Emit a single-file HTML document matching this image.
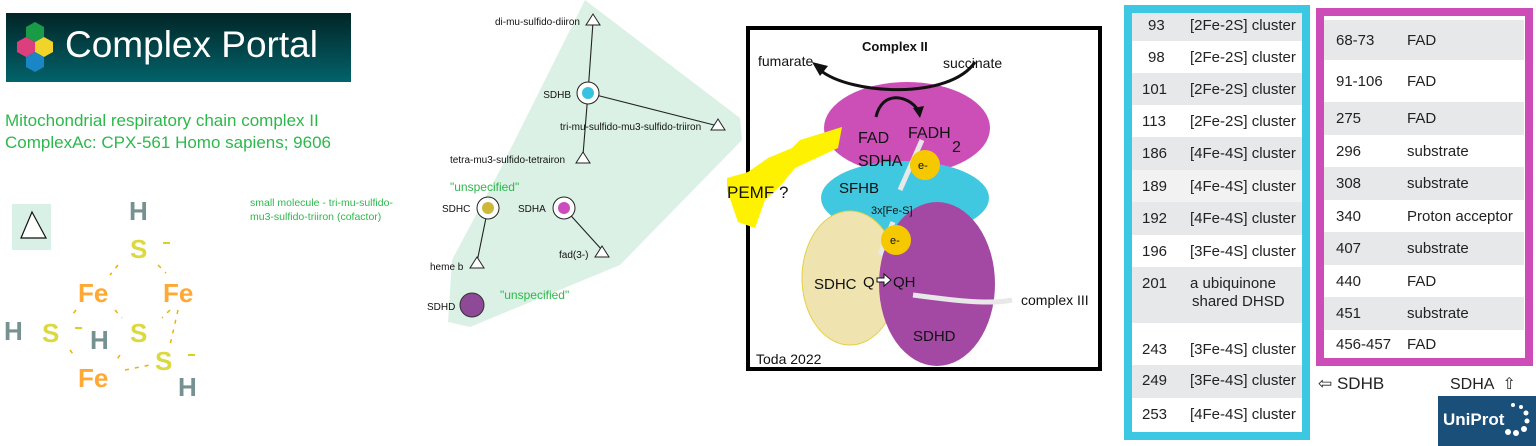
<!DOCTYPE html>
<html><head><meta charset="utf-8"><style>
*{margin:0;padding:0;box-sizing:border-box}
body{width:1536px;height:446px;background:#fff;position:relative;overflow:hidden;font-family:"Liberation Sans",sans-serif}
.a{position:absolute;white-space:nowrap}
.tb{position:absolute;font-size:15px;color:#222}
.tb div{position:absolute;left:0;right:0}
.tb span{position:absolute}
</style></head><body>
<div class="a" style="left:6px;top:13px;width:345px;height:69px;background:linear-gradient(#022527,#02636a)"></div>
<svg class="a" style="left:0;top:0" width="1536" height="446">
 <g>
  <polygon points="35,22 44,27 44,37 35,42 26,37 26,27" fill="#1a9b47"/>
  <polygon points="26,37 35,42 35,52 26,57 17,52 17,42" fill="#dd3f7d"/>
  <polygon points="44,37 53,42 53,52 44,57 35,52 35,42" fill="#f2d32a"/>
  <polygon points="35,52 44,57 44,67 35,72 26,67 26,57" fill="#1b86c6"/>
 </g>
 <polygon points="585,0 740,118 742,140 620,265 470,327 448,322 452,260 500,170 560,50" fill="#dbf1e6"/>
 <rect x="12" y="204" width="39" height="46" fill="#d8f0e6"/>
 <polygon points="32,212 21,238 46,238" fill="#fff" stroke="#111" stroke-width="1.2"/>
 <g stroke="#222" stroke-width="1.1">
  <line x1="588" y1="93" x2="593" y2="22"/><line x1="588" y1="93" x2="718" y2="126"/>
  <line x1="588" y1="93" x2="583" y2="155"/><line x1="488" y1="208" x2="477" y2="262"/>
  <line x1="564" y1="208" x2="602" y2="250"/>
 </g>
 <g fill="#fff" stroke="#222" stroke-width="1">
  <polygon points="593,14 586,25 600,25"/><polygon points="718,119 711,130 725,130"/>
  <polygon points="583,152 576,163 590,163"/><polygon points="477,257 470,268 484,268"/>
  <polygon points="602,246 595,257 609,257"/>
  <circle cx="588" cy="93" r="11"/><circle cx="488" cy="208" r="11"/><circle cx="564" cy="208" r="11"/>
 </g>
 <circle cx="588" cy="93" r="6" fill="#37c3e0"/><circle cx="488" cy="208" r="6" fill="#cdb83a"/><circle cx="564" cy="208" r="6" fill="#cc4cc0"/>
 <circle cx="472" cy="305" r="12" fill="#8e4a96" stroke="#333"/>
 <g font-size="10" fill="#111" font-family="Liberation Sans,sans-serif">
  <text x="580" y="25" text-anchor="end">di-mu-sulfido-diiron</text>
  <text x="571" y="98" text-anchor="end">SDHB</text>
  <text x="560" y="130">tri-mu-sulfido-mu3-sulfido-triiron</text>
  <text x="450" y="163">tetra-mu3-sulfido-tetrairon</text>
  <text x="442" y="212">SDHC</text><text x="518" y="212">SDHA</text>
  <text x="430" y="270">heme b</text><text x="559" y="258">fad(3-)</text>
  <text x="427" y="310">SDHD</text>
 </g>
 <g font-size="12" fill="#2db84c"><text x="450" y="191">"unspecified"</text><text x="500" y="299">"unspecified"</text></g>
 <g font-size="10.5" fill="#2db84c"><text x="250" y="206">small molecule - tri-mu-sulfido-</text><text x="250" y="220">mu3-sulfido-triiron (cofactor)</text></g>
 <g font-size="26" font-weight="bold" font-family="Liberation Sans,sans-serif" opacity="0.85">
  <g fill="#5d7e7e"><text x="129" y="220">H</text><text x="90" y="349">H</text><text x="178" y="396">H</text><text x="4" y="340">H</text></g>
  <g fill="#d6d21e"><text x="130" y="258">S</text><text x="42" y="342">S</text><text x="130" y="342">S</text><text x="155" y="370">S</text></g>
  <g fill="#ff9a10"><text x="78" y="302">Fe</text><text x="163" y="302">Fe</text><text x="78" y="387">Fe</text></g>
 </g>
 <g stroke="#f0b000" stroke-width="1.5" stroke-dasharray="4,6">
  <line x1="118" y1="265" x2="110" y2="275"/><line x1="158" y1="265" x2="166" y2="273"/>
  <line x1="76" y1="310" x2="70" y2="318"/><line x1="115" y1="310" x2="122" y2="318"/>
  <line x1="170" y1="310" x2="162" y2="318"/><line x1="178" y1="310" x2="170" y2="345"/>
  <line x1="70" y1="350" x2="76" y2="358"/><line x1="120" y1="355" x2="115" y2="362"/>
  <line x1="125" y1="370" x2="150" y2="365"/>
 </g>
 <g stroke="#d6d21e" stroke-width="2"><line x1="163" y1="243" x2="170" y2="243"/><line x1="75" y1="328" x2="82" y2="328"/><line x1="188" y1="355" x2="195" y2="355"/></g>
 <rect x="748" y="28" width="352" height="341" fill="#fff" stroke="#000" stroke-width="4"/>
 <ellipse cx="907" cy="128" rx="83" ry="46" fill="#cc4fb8"/>
 <ellipse cx="905" cy="198" rx="84" ry="37" fill="#40c8e0"/>
 <ellipse cx="850" cy="278" rx="48" ry="67" fill="#efe3b0" stroke="#e6d040"/>
 <ellipse cx="937" cy="284" rx="58" ry="82" fill="#a349a4"/>
 <path d="M975,62 C950,100 850,95 820,70" fill="none" stroke="#111" stroke-width="3"/>
 <polygon points="812,62 828,66 820,76" fill="#111"/>
 <path d="M876,117 C882,90 908,95 918,110" fill="none" stroke="#111" stroke-width="3"/>
 <polygon points="913,108 924,106 920,118" fill="#111"/>
 <polygon points="842,127 838,148 795,168 782,184 765,200 755,228 738,222 727,190 727,178 748,172 768,158 792,148 800,140" fill="#fff200"/>
 <g stroke="#e8e8e8" stroke-width="5" fill="none"><line x1="922" y1="140" x2="900" y2="190"/><line x1="893" y1="222" x2="880" y2="255"/><path d="M913,295 C950,300 990,305 1012,300"/></g>
 <circle cx="925" cy="165" r="15" fill="#f5c800"/><circle cx="896" cy="240" r="15" fill="#f5c800"/>
 <polygon points="877,278 884,278 884,274 891,280 884,286 884,282 877,282" fill="#fff" stroke="#111"/>
 <g font-family="Liberation Sans,sans-serif" fill="#111">
  <text x="862" y="51" font-size="13" font-weight="bold">Complex II</text>
  <text x="758" y="66" font-size="14">fumarate</text><text x="943" y="68" font-size="14">succinate</text>
  <text x="858" y="143" font-size="16">FAD</text><text x="908" y="138" font-size="16">FADH</text><text x="952" y="152" font-size="16">2</text>
  <text x="858" y="166" font-size="16">SDHA</text><text x="918" y="169" font-size="11">e-</text>
  <text x="839" y="193" font-size="15">SFHB</text><text x="871" y="214" font-size="11">3x[Fe-S]</text>
  <text x="890" y="244" font-size="11">e-</text>
  <text x="814" y="289" font-size="15">SDHC</text><text x="863" y="287" font-size="15">Q</text><text x="893" y="287" font-size="15">QH</text>
  <text x="913" y="341" font-size="15">SDHD</text><text x="1021" y="305" font-size="14">complex III</text>
  <text x="756" y="364" font-size="14">Toda 2022</text>
  <text x="727" y="198" font-size="17">PEMF ?</text>
 </g>
</svg>
<div class="a" style="left:65px;top:24px;font-size:37px;color:#fff">Complex Portal</div>
<div class="a" style="left:5px;top:110px;font-size:17px;color:#2db84c;line-height:22px">Mitochondrial respiratory chain complex II<br>ComplexAc: CPX-561 Homo sapiens; 9606</div>

<div class="a" style="left:1124px;top:5px;width:186px;height:435px;border:8px solid #3cc8e3;background:#fff"></div>
<div class="tb" style="left:1132px;top:13px;width:170px;height:419px">
 <div style="top:0;height:28px;background:#e6e8ea"><span style="left:16px;top:4px">93</span><span style="left:58px;top:4px">[2Fe-2S] cluster</span></div>
 <div style="top:28px;height:32px"><span style="left:16px;top:8px">98</span><span style="left:58px;top:8px">[2Fe-2S] cluster</span></div>
 <div style="top:60px;height:32px;background:#e6e8ea"><span style="left:10px;top:8px">101</span><span style="left:58px;top:8px">[2Fe-2S] cluster</span></div>
 <div style="top:92px;height:32px"><span style="left:10px;top:8px">113</span><span style="left:58px;top:8px">[2Fe-2S] cluster</span></div>
 <div style="top:124px;height:33px;background:#e6e8ea"><span style="left:10px;top:8px">186</span><span style="left:58px;top:8px">[4Fe-4S] cluster</span></div>
 <div style="top:157px;height:32px;background:#f2f2f2"><span style="left:10px;top:8px">189</span><span style="left:58px;top:8px">[4Fe-4S] cluster</span></div>
 <div style="top:189px;height:33px;background:#e6e8ea"><span style="left:10px;top:8px">192</span><span style="left:58px;top:8px">[4Fe-4S] cluster</span></div>
 <div style="top:222px;height:32px"><span style="left:10px;top:8px">196</span><span style="left:58px;top:8px">[3Fe-4S] cluster</span></div>
 <div style="top:254px;height:56px;background:#e6e8ea"><span style="left:10px;top:8px">201</span><span style="left:58px;top:8px">a ubiquinone</span><span style="left:60px;top:26px">shared DHSD</span></div>
 <div style="top:322px;height:30px"><span style="left:10px;top:6px">243</span><span style="left:58px;top:6px">[3Fe-4S] cluster</span></div>
 <div style="top:352px;height:33px;background:#e6e8ea"><span style="left:10px;top:7px">249</span><span style="left:58px;top:7px">[3Fe-4S] cluster</span></div>
 <div style="top:385px;height:32px"><span style="left:10px;top:8px">253</span><span style="left:58px;top:8px">[4Fe-4S] cluster</span></div>
</div>
<div class="a" style="left:1316px;top:8px;width:217px;height:358px;border:8px solid #cc4cb8;background:#fff"></div>
<div class="tb" style="left:1324px;top:16px;width:200px;height:342px">
 <div style="top:4px;height:40px;background:#e6e8ea"><span style="left:12px;top:12px">68-73</span><span style="left:83px;top:12px">FAD</span></div>
 <div style="top:44px;height:42px"><span style="left:12px;top:13px">91-106</span><span style="left:83px;top:13px">FAD</span></div>
 <div style="top:86px;height:33px;background:#e6e8ea"><span style="left:12px;top:8px">275</span><span style="left:83px;top:8px">FAD</span></div>
 <div style="top:119px;height:32px"><span style="left:12px;top:8px">296</span><span style="left:83px;top:8px">substrate</span></div>
 <div style="top:151px;height:33px;background:#e6e8ea"><span style="left:12px;top:8px">308</span><span style="left:83px;top:8px">substrate</span></div>
 <div style="top:184px;height:32px"><span style="left:12px;top:8px">340</span><span style="left:83px;top:8px">Proton acceptor</span></div>
 <div style="top:216px;height:33px;background:#e6e8ea"><span style="left:12px;top:8px">407</span><span style="left:83px;top:8px">substrate</span></div>
 <div style="top:249px;height:32px"><span style="left:12px;top:8px">440</span><span style="left:83px;top:8px">FAD</span></div>
 <div style="top:281px;height:33px;background:#e6e8ea"><span style="left:12px;top:8px">451</span><span style="left:83px;top:8px">substrate</span></div>
 <div style="top:314px;height:28px"><span style="left:12px;top:6px">456-457</span><span style="left:83px;top:6px">FAD</span></div>
</div>
<div class="a" style="left:1318px;top:374px;font-size:17px;color:#222">⇦ SDHB</div>
<div class="a" style="left:1450px;top:374px;font-size:16px;color:#222">SDHA &nbsp;⇧</div>
<div class="a" style="left:1438px;top:396px;width:98px;height:50px;background:#1a4f7a"></div>
<div class="a" style="left:1443px;top:410px;font-size:17px;font-weight:bold;color:#fff">UniProt</div>
<svg class="a" style="left:1438px;top:396px" width="98" height="50"><g fill="#fff"><circle cx="75" cy="9" r="2"/><circle cx="83" cy="11" r="2"/><circle cx="88" cy="17" r="2.5"/><circle cx="89" cy="25" r="2.5"/><circle cx="86" cy="33" r="3"/><circle cx="78" cy="37" r="3"/><circle cx="70" cy="36" r="3"/></g></svg>
</body></html>
